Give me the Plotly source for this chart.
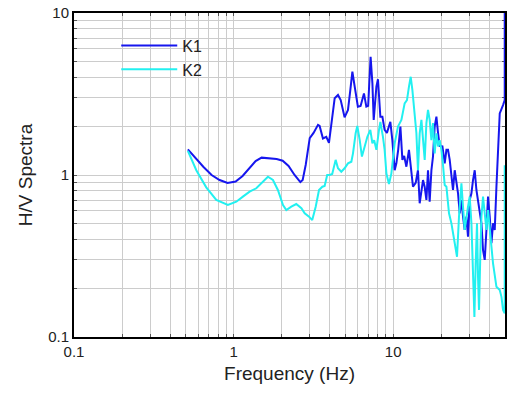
import math
import plotly.graph_objects as go

# ---- data -------------------------------------------------------------
k1_freq = [0.517, 0.578, 0.648, 0.728, 0.817, 0.917, 1.03, 1.139, 1.26, 1.374,
           1.498, 1.682, 1.86, 2.03, 2.21, 2.41, 2.62, 2.71, 2.83, 3.0,
           3.17, 3.38, 3.46, 3.63, 3.81, 3.96, 4.16, 4.30, 4.51, 4.69,
           4.96, 5.21, 5.39, 5.55, 5.74, 6.01, 6.25, 6.56, 6.79, 6.97,
           7.22, 7.41, 7.55, 7.85, 8.03, 8.31, 8.56, 8.84, 9.14, 9.60,
           9.88, 10.22, 10.47, 10.75, 11.1, 11.42, 11.72, 12.1, 12.56, 13.0,
           13.31, 13.84, 14.3, 14.66, 15.03, 15.38, 15.76, 16.15, 16.53, 16.93,
           17.36, 17.76, 18.2, 18.66, 19.1, 19.56, 20.35, 21.03, 21.56, 22.06,
           22.61, 23.17, 23.71, 24.3, 24.9, 25.48, 26.12, 26.77, 27.39, 28.07,
           28.77, 29.44, 30.17, 30.93, 31.64, 32.43, 33.23, 34.01, 34.85, 35.73,
           36.56, 37.47, 38.4, 39.3, 40.27, 41.28, 42.24, 43.29, 44.36, 45.4,
           46.53, 48.8, 50.0, 50.0]
k1_hv = [1.44, 1.27, 1.12, 1.0, 0.931, 0.893, 0.912, 0.986, 1.105, 1.22,
         1.28, 1.27, 1.255, 1.225, 1.137, 1.0, 0.905, 0.931, 1.153, 1.69,
         1.82, 2.04, 2.01, 1.68, 1.72, 1.58, 2.29, 2.98, 3.12, 2.90,
         2.27, 2.52, 3.35, 4.34, 3.51, 2.64, 2.67, 3.19, 2.64, 2.67,
         5.37, 3.68, 2.19, 3.51, 3.90, 2.29, 2.29, 1.90, 1.82, 2.13,
         1.64, 1.07, 1.18, 1.43, 1.99, 1.24, 1.31, 1.125, 1.43, 1.07,
         0.847, 0.893, 1.07, 0.669, 0.774, 0.931, 0.843, 0.701, 1.07, 0.684,
         1.07, 1.30, 1.99, 2.29, 1.82, 1.51, 1.50, 1.18, 1.43, 1.43,
         1.24, 0.976, 0.808, 1.07, 0.931, 0.774, 0.580, 0.701, 0.553, 0.458,
         0.553, 0.416, 0.701, 0.771, 0.931, 1.07, 0.808, 0.701, 0.608, 0.503,
         0.344, 0.299, 0.458, 0.735, 0.553, 0.379, 0.503, 0.458, 0.847, 1.30,
         2.40, 2.70, 2.90, 20.0]

k2_freq = [0.517, 0.584, 0.674, 0.779, 0.921, 1.04, 1.144, 1.26, 1.388, 1.526,
           1.641, 1.764, 1.895, 2.04, 2.14, 2.30, 2.47, 2.66, 2.79, 2.97,
           3.11, 3.27, 3.43, 3.60, 3.72, 3.86, 4.00, 4.15, 4.36, 4.51,
           4.73, 4.96, 5.21, 5.47, 5.60, 5.82, 5.96, 6.17, 6.37, 6.63,
           6.89, 7.19, 7.41, 7.60, 7.85, 8.15, 8.31, 8.63, 8.84, 9.07,
           9.41, 9.74, 10.22, 10.72, 11.26, 11.8, 12.2, 12.56, 12.88, 13.19,
           13.5, 13.98, 14.3, 14.66, 15.03, 15.38, 15.76, 16.15, 16.53, 16.93,
           17.36, 17.76, 18.2, 18.66, 19.1, 19.56, 20.05, 20.52, 21.03, 21.56,
           22.06, 22.38, 23.17, 23.71, 24.3, 25.12, 25.85, 26.77, 27.39, 28.07,
           29.44, 30.17, 30.93, 31.64, 32.28, 32.89, 33.52, 34.01, 34.51, 35.22,
           35.73, 36.56, 37.47, 38.4, 39.3, 40.27, 41.28, 42.24, 43.29, 44.36,
           46.53, 47.7, 48.8, 50.0, 50.0]
k2_hv = [1.41, 1.07, 0.839, 0.701, 0.653, 0.684, 0.735, 0.789, 0.828, 0.909,
         0.976, 0.931, 0.808, 0.653, 0.608, 0.637, 0.662, 0.623, 0.580, 0.553,
         0.527, 0.637, 0.808, 0.847, 0.855, 1.0, 1.0, 1.014, 1.24, 1.10,
         1.048, 1.10, 1.18, 1.208, 1.36, 1.81, 2.01, 1.64, 1.30, 1.50,
         1.72, 1.90, 1.57, 1.64, 1.43, 1.90, 2.13, 1.72, 1.43, 1.02,
         0.880, 1.02, 1.57, 1.99, 2.19, 2.77, 2.90, 3.51, 4.04, 3.35,
         2.64, 1.81, 1.07, 1.81, 2.19, 1.57, 1.24, 2.09, 2.52, 2.19,
         1.64, 2.09, 1.36, 1.81, 1.50, 1.64, 1.43, 1.153, 0.868, 0.847,
         0.672, 0.580, 0.503, 0.438, 0.379, 0.313, 0.553, 0.889, 0.637, 0.458,
         0.637, 0.735, 0.503, 0.236, 0.133, 0.285, 0.503, 0.236, 0.147, 0.344,
         0.553, 0.735, 0.553, 0.458, 0.608, 0.437, 0.361, 0.285, 0.236, 0.204,
         0.195, 0.177, 0.147, 0.14, 1.15]

series_names = ["K1", "K2"]
series_colors = ["#1616ee", "#22f0f0"]

x_title = "Frequency (Hz)"
y_title = "H/V Spectra"
x_major = [0.1, 1, 10]
y_major = [0.1, 1, 10]
x_grid = [m * 10 ** e for e in (-1, 0, 1) for m in range(1, 10) if m * 10 ** e <= 50]
y_grid = [m * 10 ** e for e in (-1, 0) for m in range(1, 10)] + [10]


def fmt(v):
    return ("%g" % v)


def labels(vals, majors):
    return [fmt(v) if any(abs(v - m) < 1e-9 for m in majors) else "" for v in vals]


FONT = "Liberation Sans, Arial, Helvetica, sans-serif"

fig = go.Figure()
for fx, fy, name, col in [(k1_freq, k1_hv, series_names[0], series_colors[0]),
                          (k2_freq, k2_hv, series_names[1], series_colors[1])]:
    fig.add_trace(go.Scatter(x=fx, y=fy, mode="lines", name=name,
                             line=dict(color=col, width=2)))

axis_common = dict(type="log", showline=True, linecolor="black", linewidth=2,
                   mirror="allticks", ticks="inside", ticklen=3, tickcolor="#555",
                   showgrid=True, gridcolor="#cccccc", gridwidth=1,
                   zeroline=False, automargin=False, layer="below traces",
                   tickfont=dict(size=15, color="#222", family=FONT))

fig.update_xaxes(range=[-1, math.log10(50.2)], tickvals=x_grid,
                 ticktext=labels(x_grid, x_major),
                 title=dict(text=x_title, font=dict(size=19, color="#222", family=FONT),
                            standoff=8),
                 **axis_common)
fig.update_yaxes(range=[-1, 1], tickvals=y_grid, ticktext=labels(y_grid, y_major),
                 title=dict(text=y_title, font=dict(size=19, color="#222", family=FONT),
                            standoff=10),
                 **axis_common)

fig.update_layout(
    width=510, height=394,
    margin=dict(l=74, r=5, t=13, b=57, autoexpand=False),
    paper_bgcolor="white", plot_bgcolor="white",
    font=dict(family=FONT, color="#222"),
    showlegend=True,
    legend=dict(x=0.098, y=0.952, xanchor="left", yanchor="top",
                bgcolor="rgba(0,0,0,0)", borderwidth=0,
                font=dict(size=16, color="#222", family=FONT),
                itemwidth=56, tracegroupgap=0, traceorder="normal"),
)

fig.write_html("out.html", config={"displayModeBar": False},
               post_script="document.body.style.margin='0';document.body.style.overflow='hidden';")
